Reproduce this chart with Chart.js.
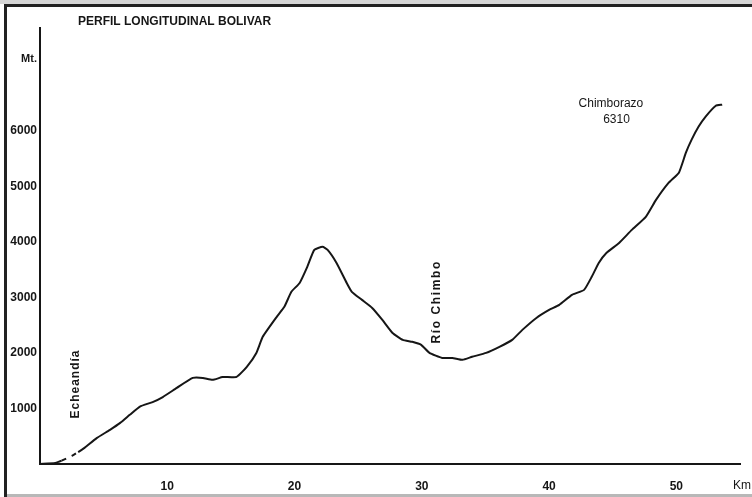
<!DOCTYPE html>
<html>
<head>
<meta charset="utf-8">
<script src="https://cdn.jsdelivr.net/npm/chart.js@4.4.0/dist/chart.umd.min.js"></script>
<style>
  html, body { margin: 0; padding: 0; background: #ffffff; }
  #wrap { position: absolute; left: 0; top: 0; width: 752px; height: 497px; }
</style>
</head>
<body>
<div id="wrap"><canvas id="c" width="752" height="497"></canvas></div>
<script>
// Distance along the profile (km) and altitude (m)
const distanceKm = [0, 1.2, 1.7, 2.5, 3.0, 3.5, 4.45, 5.5, 6.3, 7.05, 7.85, 8.85, 9.65, 10.75, 12.0, 12.8, 13.55, 14.35, 15.45, 16.25, 17.0, 17.5, 18.6, 19.2, 19.75, 20.4, 21.0, 21.55, 22.2, 22.6, 23.3, 24.1, 24.5, 25.3, 26.1, 26.9, 27.7, 28.5, 29.25, 29.95, 30.6, 31.6, 32.4, 33.2, 33.95, 35.05, 36.1, 37.1, 37.9, 39.0, 40.0, 40.8, 41.8, 42.75, 43.35, 43.9, 44.5, 45.5, 46.5, 47.6, 48.4, 49.4, 50.2, 50.75, 51.2, 51.75, 52.3, 53.1, 53.6];
const altitudeM = [0, 20, 60, 145, 215, 290, 465, 615, 740, 885, 1035, 1115, 1205, 1370, 1550, 1550, 1515, 1565, 1570, 1750, 2000, 2290, 2650, 2830, 3100, 3260, 3550, 3855, 3910, 3855, 3620, 3260, 3100, 2955, 2810, 2595, 2360, 2235, 2200, 2145, 2000, 1910, 1910, 1875, 1930, 2000, 2110, 2235, 2415, 2630, 2775, 2865, 3045, 3135, 3370, 3620, 3800, 3980, 4215, 4450, 4755, 5065, 5245, 5605, 5840, 6075, 6255, 6450, 6470];
// Portion of the profile drawn dashed (km)
const dashedFromKm = 1.7;
const dashedToKm = 3.0;
// Tick labels
const xTickValues = [10, 20, 30, 40, 50];
const yTickValues = [1000, 2000, 3000, 4000, 5000, 6000];
// Labels
const chartTitle = 'PERFIL LONGITUDINAL BOLIVAR';
const yUnit = 'Mt.';
const xUnit = 'Km';
const placeNames = [
  { text: 'Echeandía', km: 2.82, m: 1440, rotate: true, spacing: 1, bold: true },
  { text: 'Río Chimbo', km: 31.2, m: 2920, rotate: true, spacing: 1.6, bold: true },
  { text: 'Chimborazo', km: 44.86, m: 6490, rotate: false, spacing: 0, bold: false },
  { text: '6310', km: 45.3, m: 6200, rotate: false, spacing: 0, bold: false }
];

const FONT = '"Liberation Sans", Arial, Helvetica, sans-serif';
const INK = '#161616';

const points = distanceKm.map((k, i) => ({ x: k, y: altitudeM[i] }));

const framePlugin = {
  id: 'frame',
  beforeDraw(chart) {
    const ctx = chart.ctx;
    ctx.save();
    ctx.fillStyle = '#ffffff';
    ctx.fillRect(0, 0, chart.width, chart.height);
    ctx.fillStyle = '#d6d6d6';
    ctx.fillRect(0, 0, chart.width, 4);
    ctx.fillStyle = '#222222';
    ctx.fillRect(4, 4, chart.width - 4, 3);
    ctx.fillRect(4, 4, 3, chart.height - 4);
    ctx.fillStyle = '#b8b8b8';
    ctx.fillRect(7, 494, chart.width - 7, 3);
    ctx.restore();
  }
};

const textPlugin = {
  id: 'texts',
  afterDraw(chart) {
    const ctx = chart.ctx;
    const xs = chart.scales.x, ys = chart.scales.y, area = chart.chartArea;
    ctx.save();
    ctx.fillStyle = INK;
    // title
    ctx.font = 'bold 12px ' + FONT;
    ctx.textAlign = 'left';
    ctx.textBaseline = 'middle';
    ctx.fillText(chartTitle, area.left + 38, 22);
    // units
    ctx.font = 'bold 11px ' + FONT;
    ctx.textAlign = 'right';
    ctx.fillText(yUnit, area.left - 3, ys.getPixelForValue(7300));
    ctx.font = '12px ' + FONT;
    ctx.textAlign = 'left';
    ctx.fillText(xUnit, area.right - 7, area.bottom + 22);
    // place names
    placeNames.forEach(p => {
      const px = xs.getPixelForValue(p.km);
      const py = ys.getPixelForValue(p.m);
      ctx.save();
      ctx.translate(px, py);
      if (p.rotate) ctx.rotate(-Math.PI / 2);
      ctx.font = (p.bold ? 'bold ' : '') + '12px ' + FONT;
      ctx.letterSpacing = p.spacing + 'px';
      ctx.textAlign = 'center';
      ctx.textBaseline = 'middle';
      ctx.fillText(p.text, 0, 0);
      ctx.restore();
    });
    ctx.restore();
  }
};

new Chart(document.getElementById('c'), {
  type: 'line',
  data: {
    datasets: [{
      data: points,
      borderColor: INK,
      borderWidth: 2,
      pointRadius: 0,
      tension: 0.15,
      fill: false,
      segment: {
        borderDash: ctx => (ctx.p0.parsed.x >= dashedFromKm && ctx.p1.parsed.x <= dashedToKm) ? [5, 6] : undefined
      }
    }]
  },
  options: {
    responsive: false,
    animation: false,
    layout: { padding: { left: 0, right: 12, top: 28, bottom: 0 } },
    plugins: {
      legend: { display: false },
      tooltip: { enabled: false },
      title: { display: false }
    },
    scales: {
      x: {
        type: 'linear',
        min: 0,
        max: 55,
        grid: { display: false, drawTicks: false },
        border: { display: true, color: INK, width: 2 },
        afterBuildTicks: s => { s.ticks = xTickValues.map(v => ({ value: v })); },
        afterFit: s => { s.height = 33; },
        ticks: {
          color: INK,
          font: { family: FONT, size: 12, weight: 'bold' },
          padding: 15,
          maxRotation: 0,
          autoSkip: false,
          callback: v => String(v)
        }
      },
      y: {
        type: 'linear',
        min: 0,
        max: 7850,
        grid: { display: false, drawTicks: false },
        border: { display: true, color: INK, width: 2 },
        afterBuildTicks: s => { s.ticks = yTickValues.map(v => ({ value: v })); },
        afterFit: s => { s.width = 40; },
        ticks: {
          color: INK,
          font: { family: FONT, size: 12, weight: 'bold' },
          padding: 3,
          autoSkip: false,
          callback: v => String(v)
        }
      }
    }
  },
  plugins: [framePlugin, textPlugin]
});
</script>
</body>
</html>
